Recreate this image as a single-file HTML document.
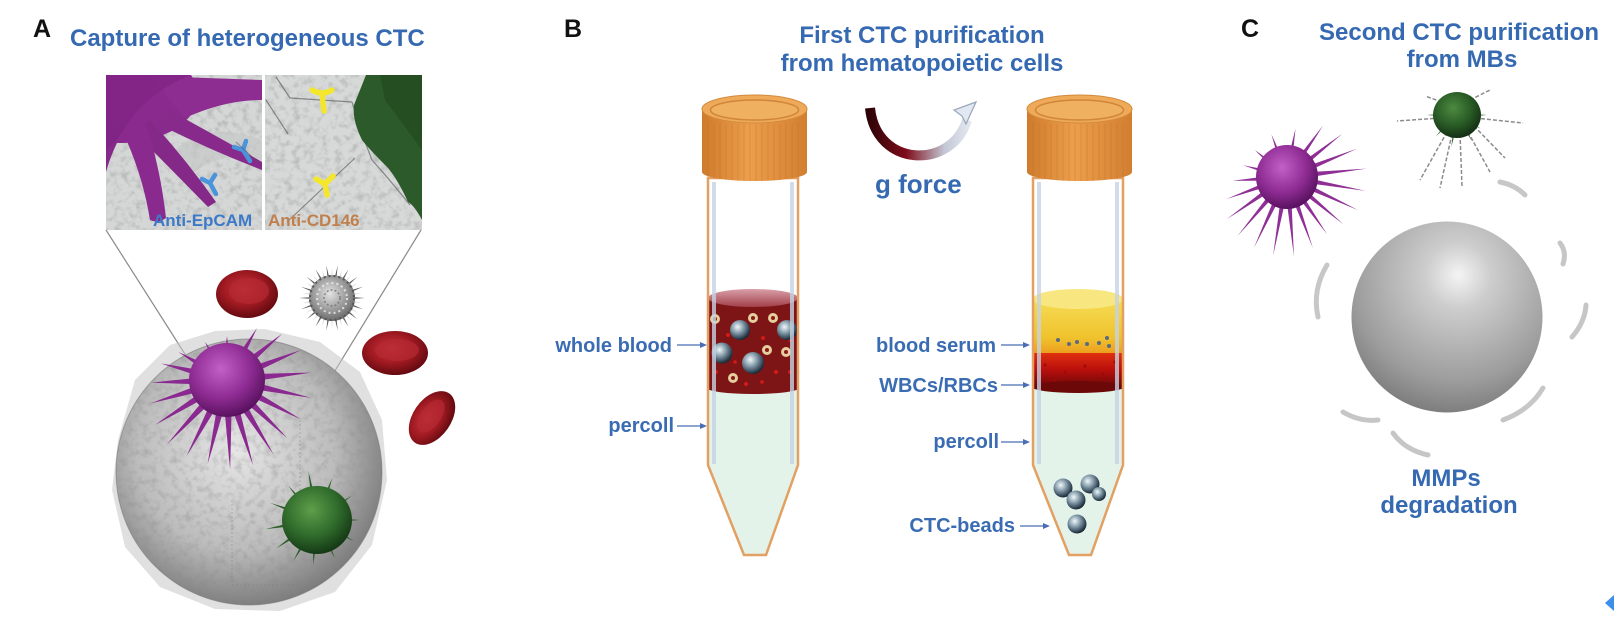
<!DOCTYPE html>
<html>
<head>
<meta charset="utf-8">
<style>
  html,body{margin:0;padding:0;background:#fff;}
  svg{display:block;}
  text{font-family:"Liberation Sans",Arial,sans-serif;font-weight:bold;}
  .t{fill:#3569b1;font-size:24px;}
  .lb{fill:#3a6cb3;font-size:20px;}
  .L{fill:#111;font-size:25px;}
</style>
</head>
<body>
<svg width="1614" height="628" viewBox="0 0 1614 628" xmlns="http://www.w3.org/2000/svg">
<defs>
  <filter id="tex" x="0" y="0" width="1" height="1">
    <feTurbulence type="fractalNoise" baseFrequency="0.14" numOctaves="3" seed="7"/>
    <feColorMatrix type="matrix" values="0 0 0 0 0.25  0 0 0 0 0.25  0 0 0 0 0.25  1.4 0 0 0 -0.64"/>
  </filter>
  <radialGradient id="sphA" cx="0.45" cy="0.42" r="0.62">
    <stop offset="0" stop-color="#e6e6e6"/>
    <stop offset="0.6" stop-color="#bcbcbc"/>
    <stop offset="1" stop-color="#747474"/>
  </radialGradient>
  <radialGradient id="sphC" cx="0.55" cy="0.3" r="0.78" fx="0.56" fy="0.28">
    <stop offset="0" stop-color="#f4f4f4"/>
    <stop offset="0.22" stop-color="#cdcdcd"/>
    <stop offset="0.7" stop-color="#9c9c9c"/>
    <stop offset="1" stop-color="#707070"/>
  </radialGradient>
  <radialGradient id="purp" cx="0.42" cy="0.35" r="0.65">
    <stop offset="0" stop-color="#c160c6"/>
    <stop offset="0.6" stop-color="#8f2c94"/>
    <stop offset="1" stop-color="#5a1260"/>
  </radialGradient>
  <radialGradient id="grn" cx="0.42" cy="0.35" r="0.65">
    <stop offset="0" stop-color="#5e9e4a"/>
    <stop offset="0.6" stop-color="#2f6a2b"/>
    <stop offset="1" stop-color="#163a16"/>
  </radialGradient>
  <radialGradient id="grnC" cx="0.42" cy="0.35" r="0.65">
    <stop offset="0" stop-color="#4d8a40"/>
    <stop offset="0.6" stop-color="#285a25"/>
    <stop offset="1" stop-color="#143014"/>
  </radialGradient>
  <radialGradient id="rbc" cx="0.45" cy="0.4" r="0.6">
    <stop offset="0" stop-color="#c93440"/>
    <stop offset="0.55" stop-color="#a01a22"/>
    <stop offset="1" stop-color="#640a10"/>
  </radialGradient>
  <radialGradient id="bead" cx="0.38" cy="0.35" r="0.65">
    <stop offset="0" stop-color="#f2f8fa"/>
    <stop offset="0.35" stop-color="#9fb4c0"/>
    <stop offset="0.75" stop-color="#4a6070"/>
    <stop offset="1" stop-color="#1c2a36"/>
  </radialGradient>
  <radialGradient id="spiky" cx="0.45" cy="0.4" r="0.6">
    <stop offset="0" stop-color="#e4e4e4"/>
    <stop offset="1" stop-color="#6a6a6a"/>
  </radialGradient>
  <linearGradient id="capG" x1="0" x2="1" y1="0" y2="0">
    <stop offset="0" stop-color="#cf7a2c"/>
    <stop offset="0.45" stop-color="#ec9f4c"/>
    <stop offset="1" stop-color="#d27e30"/>
  </linearGradient>
  <linearGradient id="serum" x1="0" x2="0" y1="0" y2="1">
    <stop offset="0" stop-color="#f6dc55"/>
    <stop offset="0.7" stop-color="#efc22c"/>
    <stop offset="1" stop-color="#ec9a1e"/>
  </linearGradient>
  <linearGradient id="redL" x1="0" x2="0" y1="0" y2="1">
    <stop offset="0" stop-color="#e0300f"/>
    <stop offset="0.5" stop-color="#b80f0c"/>
    <stop offset="1" stop-color="#6c0808"/>
  </linearGradient>
  <linearGradient id="bloodTop" x1="0" x2="0" y1="0" y2="1">
    <stop offset="0" stop-color="#d8a0a8"/>
    <stop offset="1" stop-color="#a3404a"/>
  </linearGradient>
  <linearGradient id="gArrow" gradientUnits="userSpaceOnUse" x1="867" y1="0" x2="978" y2="0">
    <stop offset="0" stop-color="#2a0306"/>
    <stop offset="0.35" stop-color="#7e0c1a"/>
    <stop offset="0.7" stop-color="#c4c8d6"/>
    <stop offset="1" stop-color="#eef2f8"/>
  </linearGradient>
  <path id="spA" d="M0,-5 Q45,-2.5 80,0 Q45,2.5 0,5 Z" fill="#8a2a90"/>
  <path id="spC" d="M0,-3.6 Q35,-1.6 70,0 Q35,1.6 0,3.6 Z" fill="#8f2f95"/>
  <path id="spG" d="M0,-4 Q25,-1.5 50,0 Q25,1.5 0,4 Z" fill="#2c5e28"/>
  <path id="spS" d="M0,-2.4 L33,0 L0,2.4 Z"/>
  <path id="tubeP" d="M708,178 L708,465 L744,555 L766,555 L798,465 L798,178 Z"/>
  <clipPath id="tubeClip"><use href="#tubeP"/></clipPath>
  <clipPath id="clipSphA"><circle cx="249" cy="472" r="133"/></clipPath>
  <clipPath id="clipInL"><rect x="106" y="75" width="156" height="155"/></clipPath>
  <clipPath id="clipInR"><rect x="265" y="75" width="157" height="155"/></clipPath>
  <g id="tubeShell">
    <line x1="714" y1="182" x2="714" y2="464" stroke="#c6d3e4" stroke-width="4" opacity="0.8"/>
    <line x1="792" y1="182" x2="792" y2="464" stroke="#c6d3e4" stroke-width="4" opacity="0.8"/>
    <use href="#tubeP" fill="none" stroke="#e2a062" stroke-width="2.5"/>
    <path d="M702,110 L702,172 A52.5,9 0 0 0 807,172 L807,110 Z" fill="url(#capG)"/>
    <g stroke="#b86a24" stroke-width="1" opacity="0.3">
      <line x1="708" y1="122" x2="708" y2="177"/><line x1="714" y1="123" x2="714" y2="178"/>
      <line x1="720" y1="123" x2="720" y2="179"/><line x1="726" y1="124" x2="726" y2="180"/>
      <line x1="732" y1="124" x2="732" y2="180"/><line x1="738" y1="124" x2="738" y2="181"/>
      <line x1="744" y1="124" x2="744" y2="181"/><line x1="750" y1="124" x2="750" y2="181"/>
      <line x1="756" y1="124" x2="756" y2="181"/><line x1="762" y1="124" x2="762" y2="181"/>
      <line x1="768" y1="124" x2="768" y2="181"/><line x1="774" y1="124" x2="774" y2="180"/>
      <line x1="780" y1="124" x2="780" y2="180"/><line x1="786" y1="123" x2="786" y2="179"/>
      <line x1="792" y1="123" x2="792" y2="178"/><line x1="798" y1="122" x2="798" y2="177"/>
    </g>
    <ellipse cx="754.5" cy="109" rx="52.5" ry="14" fill="#eeaa58" stroke="#d48a3c" stroke-width="1"/>
    <ellipse cx="754.5" cy="110" rx="44" ry="10" fill="#efb060" stroke="#cf853a" stroke-width="1.5"/>
  </g>
</defs>

<!-- ================= PANEL A ================= -->
<text class="L" x="33" y="37">A</text>
<text class="t" x="70" y="46">Capture of heterogeneous CTC</text>

<g clip-path="url(#clipInL)">
  <rect x="106" y="75" width="156" height="155" fill="#d4d7d6"/>
  <rect x="106" y="75" width="156" height="155" filter="url(#tex)" opacity="0.7"/>
  <path d="M175,150 Q210,120 262,140 L262,160 Q220,150 190,175 Z" fill="#c4c7c7" opacity="0.6"/>
  <ellipse cx="120" cy="95" rx="78" ry="48" fill="#8a2a8e"/>
  <path d="M150,76 L262,80 L262,100 Q225,100 185,118 Z" fill="#8d2c91"/>
  <path d="M165,108 Q215,135 262,162 L262,170 Q210,150 158,124 Z" fill="#872a8c"/>
  <path d="M150,120 Q185,158 216,202 L208,207 Q170,168 136,134 Z" fill="#852989"/>
  <path d="M118,122 Q142,170 150,220 Q158,224 166,218 Q160,165 144,118 Z" fill="#8a2a8e"/>
  <path d="M106,118 L106,172 Q112,150 126,126 Z" fill="#862a8a"/>
  <path d="M106,75 L190,75 Q150,92 130,120 Q118,140 106,150 Z" fill="#7a1f80" opacity="0.5"/>
  <g stroke="#4a94dc" stroke-width="4.5" stroke-linecap="round" fill="none">
    <path d="M243,150 l7,11 M243,150 l-9,-3 M243,150 l3,-9"/>
    <path d="M210,183 l6,11 M210,183 l-8,-4 M210,183 l5,-8"/>
  </g>
  <line x1="236" y1="142" x2="262" y2="166" stroke="#5a4a5a" stroke-width="1" opacity="0.5"/>
  <text x="153" y="226" style="font-size:17px;fill:#3c7ac8;">Anti-EpCAM</text>
</g>
<g clip-path="url(#clipInR)">
  <rect x="265" y="75" width="157" height="155" fill="#d6d9d8"/>
  <rect x="265" y="75" width="157" height="155" filter="url(#tex)" opacity="0.7"/>
  <g stroke="#444" stroke-width="1.2" opacity="0.55" fill="none">
    <path d="M276,77 L290,98 L352,102"/>
    <path d="M266,100 L288,134"/>
    <path d="M287,222 L355,158"/>
    <path d="M352,102 Q360,130 372,160 Q390,180 410,205"/>
  </g>
  <path d="M366,75 L422,75 L422,220 Q414,205 408,202 Q398,180 388,168 Q370,150 362,140 Q352,120 354,105 Q360,90 366,75 Z" fill="#2d5a2a"/>
  <path d="M380,75 L422,75 L422,150 Q400,120 385,100 Z" fill="#1f461f" opacity="0.6"/>
  <g stroke="#f4e62a" stroke-width="5.5" stroke-linecap="round" fill="none">
    <path d="M312,90 Q322,96 332,90 M322,94 L324,111"/>
    <path d="M325,184 l2,11 M325,184 l-9,-5 M325,184 l8,-8"/>
  </g>
  <text x="268" y="226" style="font-size:17px;fill:#c0804e;">Anti-CD146</text>
</g>

<line x1="106" y1="230" x2="190" y2="362" stroke="#8a8a8a" stroke-width="1.2"/>
<line x1="421" y1="230" x2="322" y2="392" stroke="#8a8a8a" stroke-width="1.2"/>

<g>
  <ellipse cx="247" cy="294" rx="31" ry="24" fill="url(#rbc)"/>
  <ellipse cx="249" cy="291" rx="20" ry="13" fill="#b52a33" opacity="0.7"/>
  <g transform="translate(395,353)">
    <ellipse cx="0" cy="0" rx="33" ry="22" fill="url(#rbc)"/>
    <ellipse cx="2" cy="-3" rx="22" ry="11" fill="#b52a33" opacity="0.7"/>
  </g>
  <g transform="translate(432,418) rotate(-55)">
    <ellipse cx="0" cy="0" rx="30" ry="19" fill="url(#rbc)"/>
    <ellipse cx="1" cy="-2" rx="19" ry="10" fill="#b52a33" opacity="0.7"/>
  </g>
  <g transform="translate(332,298)">
    <g fill="#5a5a5a">
      <use href="#spS" transform="rotate(0)"/><use href="#spS" transform="rotate(20)"/><use href="#spS" transform="rotate(40)"/>
      <use href="#spS" transform="rotate(60)"/><use href="#spS" transform="rotate(80)"/><use href="#spS" transform="rotate(100)"/>
      <use href="#spS" transform="rotate(120)"/><use href="#spS" transform="rotate(140)"/><use href="#spS" transform="rotate(160)"/>
      <use href="#spS" transform="rotate(180)"/><use href="#spS" transform="rotate(200)"/><use href="#spS" transform="rotate(220)"/>
      <use href="#spS" transform="rotate(240)"/><use href="#spS" transform="rotate(260)"/><use href="#spS" transform="rotate(280)"/>
      <use href="#spS" transform="rotate(300)"/><use href="#spS" transform="rotate(320)"/><use href="#spS" transform="rotate(340)"/>
    </g>
    <g fill="#d8d8d8">
      <use href="#spS" transform="rotate(10) scale(0.92,1)"/><use href="#spS" transform="rotate(30) scale(0.92,1)"/><use href="#spS" transform="rotate(50) scale(0.92,1)"/>
      <use href="#spS" transform="rotate(70) scale(0.92,1)"/><use href="#spS" transform="rotate(90) scale(0.92,1)"/><use href="#spS" transform="rotate(110) scale(0.92,1)"/>
      <use href="#spS" transform="rotate(130) scale(0.92,1)"/><use href="#spS" transform="rotate(150) scale(0.92,1)"/><use href="#spS" transform="rotate(170) scale(0.92,1)"/>
      <use href="#spS" transform="rotate(190) scale(0.92,1)"/><use href="#spS" transform="rotate(210) scale(0.92,1)"/><use href="#spS" transform="rotate(230) scale(0.92,1)"/>
      <use href="#spS" transform="rotate(250) scale(0.92,1)"/><use href="#spS" transform="rotate(270) scale(0.92,1)"/><use href="#spS" transform="rotate(290) scale(0.92,1)"/>
      <use href="#spS" transform="rotate(310) scale(0.92,1)"/><use href="#spS" transform="rotate(330) scale(0.92,1)"/><use href="#spS" transform="rotate(350) scale(0.92,1)"/>
    </g>
    <circle r="23" fill="url(#spiky)"/>
    <circle r="22" fill="none" stroke="#555" stroke-width="2" stroke-dasharray="2 3"/>
    <circle r="15" fill="none" stroke="#f0f0f0" stroke-width="2" stroke-dasharray="2 3" opacity="0.8"/>
    <circle r="8" fill="none" stroke="#666" stroke-width="1.5" stroke-dasharray="2 2" opacity="0.7"/>
  </g>
</g>

<polygon points="118,440 135,380 170,345 215,331 265,329 320,342 360,372 382,420 387,480 372,545 335,592 280,611 215,609 160,587 125,547 112,490" fill="#c6c6c6" opacity="0.55"/>
<circle cx="249" cy="472" r="133" fill="url(#sphA)"/>
<g clip-path="url(#clipSphA)">
  <rect x="116" y="339" width="266" height="266" filter="url(#tex)" opacity="0.65"/>
</g>
<circle cx="249" cy="472" r="133" fill="none" stroke="#7a7a7a" stroke-width="1" opacity="0.6"/>
<path d="M232,500 L232,585 M232,585 L300,585 M300,420 L300,500" stroke="#777" stroke-width="0.8" stroke-dasharray="2 2" opacity="0.5" fill="none"/>

<g transform="translate(227,380)">
  <use href="#spA" transform="rotate(-150) scale(0.6,1)"/>
  <use href="#spA" transform="rotate(-120) scale(0.55,1)"/>
  <use href="#spA" transform="rotate(-90) scale(0.55,1)"/>
  <use href="#spA" transform="rotate(-60) scale(0.75,1)"/>
  <use href="#spA" transform="rotate(-40) scale(0.9,1)"/>
  <use href="#spA" transform="rotate(-22) scale(1.0,1)"/>
  <use href="#spA" transform="rotate(-5) scale(1.05,1)"/>
  <use href="#spA" transform="rotate(12) scale(1.08,1)"/>
  <use href="#spA" transform="rotate(28) scale(1.05,1)"/>
  <use href="#spA" transform="rotate(44) scale(1.05,1)"/>
  <use href="#spA" transform="rotate(58) scale(1.1,1)"/>
  <use href="#spA" transform="rotate(73) scale(1.12,1)"/>
  <use href="#spA" transform="rotate(88) scale(1.12,1)"/>
  <use href="#spA" transform="rotate(103) scale(1.08,1)"/>
  <use href="#spA" transform="rotate(118) scale(1.08,1)"/>
  <use href="#spA" transform="rotate(133) scale(1.1,1)"/>
  <use href="#spA" transform="rotate(148) scale(1.06,1)"/>
  <use href="#spA" transform="rotate(163) scale(1.0,1)"/>
  <use href="#spA" transform="rotate(178) scale(0.95,1)"/>
  <use href="#spA" transform="rotate(194) scale(0.85,1)"/>
  <use href="#spA" transform="rotate(210) scale(0.7,1)"/>
  <ellipse cx="0" cy="0" rx="38" ry="37" fill="url(#purp)"/>
</g>

<g transform="translate(317,520)">
  <use href="#spG" transform="rotate(-100)"/>
  <use href="#spG" transform="rotate(-70) scale(0.9,1)"/>
  <use href="#spG" transform="rotate(-130) scale(0.9,1)"/>
  <use href="#spG" transform="rotate(-160)"/>
  <use href="#spG" transform="rotate(170) scale(1.05,1)"/>
  <use href="#spG" transform="rotate(145)"/>
  <use href="#spG" transform="rotate(120) scale(0.95,1)"/>
  <use href="#spG" transform="rotate(95) scale(0.9,1)"/>
  <use href="#spG" transform="rotate(65) scale(0.85,1)"/>
  <use href="#spG" transform="rotate(30) scale(0.85,1)"/>
  <use href="#spG" transform="rotate(0) scale(0.85,1)"/>
  <use href="#spG" transform="rotate(-35) scale(0.85,1)"/>
  <ellipse cx="0" cy="0" rx="35" ry="34" fill="url(#grn)"/>
</g>

<!-- ================= PANEL B ================= -->
<text class="L" x="564" y="37">B</text>
<text class="t" x="922" y="43" text-anchor="middle">First CTC purification</text>
<text class="t" x="922" y="71" text-anchor="middle">from hematopoietic cells</text>

<path d="M870,108 C876,168 952,170 967,120" fill="none" stroke="url(#gArrow)" stroke-width="10" stroke-linecap="butt"/>
<polygon points="976,102 954,110 962,116 966,124" fill="#e2e8f2" stroke="#98a6ba" stroke-width="1.2"/>
<text x="875" y="193" style="font-size:26px;fill:#3569b1;">g force</text>

<use href="#tubeP" fill="#fff"/>
<g clip-path="url(#tubeClip)">
  <rect x="700" y="386" width="110" height="180" fill="#e3f3ea"/>
  <rect x="700" y="298" width="110" height="90" fill="#7d1517"/>
  <ellipse cx="753" cy="388" rx="46" ry="6" fill="#7d1517"/>
  <ellipse cx="753" cy="298" rx="45" ry="9" fill="url(#bloodTop)"/>
  <g fill="#d21a1a">
    <circle cx="728" cy="335" r="2"/><circle cx="763" cy="338" r="2"/><circle cx="776" cy="372" r="2"/>
    <circle cx="716" cy="372" r="2"/><circle cx="746" cy="384" r="2"/><circle cx="790" cy="372" r="2"/>
    <circle cx="762" cy="382" r="1.8"/><circle cx="735" cy="362" r="1.8"/><circle cx="790" cy="340" r="1.8"/>
  </g>
  <g>
    <circle cx="715" cy="319" r="5" fill="#e6cf9e"/><circle cx="715" cy="319" r="2" fill="#8a1a1a"/>
    <circle cx="753" cy="318" r="5" fill="#e6cf9e"/><circle cx="753" cy="318" r="2" fill="#8a1a1a"/>
    <circle cx="773" cy="318" r="5" fill="#e6cf9e"/><circle cx="773" cy="318" r="2" fill="#8a1a1a"/>
    <circle cx="767" cy="350" r="5" fill="#e6cf9e"/><circle cx="767" cy="350" r="2" fill="#8a1a1a"/>
    <circle cx="786" cy="352" r="5" fill="#e6cf9e"/><circle cx="786" cy="352" r="2" fill="#8a1a1a"/>
    <circle cx="733" cy="378" r="5" fill="#e6cf9e"/><circle cx="733" cy="378" r="2" fill="#8a1a1a"/>
  </g>
  <circle cx="740" cy="330" r="10" fill="url(#bead)"/>
  <circle cx="787" cy="330" r="10" fill="url(#bead)"/>
  <circle cx="722" cy="353" r="10.5" fill="url(#bead)"/>
  <circle cx="753" cy="363" r="11" fill="url(#bead)"/>
</g>
<use href="#tubeShell"/>

<g transform="translate(325,0)">
  <use href="#tubeP" fill="#fff"/>
  <g clip-path="url(#tubeClip)">
    <rect x="700" y="385" width="110" height="180" fill="#e3f3ea"/>
    <rect x="700" y="299" width="110" height="56" fill="url(#serum)"/>
    <rect x="700" y="353" width="110" height="34" fill="url(#redL)"/>
    <ellipse cx="753" cy="387" rx="46" ry="6" fill="#6c0808"/>
    <ellipse cx="753" cy="299" rx="45" ry="10" fill="#f8e680"/>
    <g fill="#a00808" opacity="0.8">
      <circle cx="720" cy="365" r="1.6"/><circle cx="740" cy="372" r="1.6"/><circle cx="760" cy="366" r="1.6"/>
      <circle cx="778" cy="374" r="1.6"/><circle cx="790" cy="362" r="1.6"/><circle cx="730" cy="380" r="1.6"/>
    </g>
    <g fill="#5a6a80">
      <circle cx="733" cy="340" r="2"/><circle cx="744" cy="344" r="2"/><circle cx="752" cy="342" r="2"/>
      <circle cx="762" cy="344" r="2"/><circle cx="774" cy="343" r="2"/><circle cx="782" cy="338" r="2"/><circle cx="784" cy="346" r="2"/>
    </g>
    <circle cx="738" cy="488" r="9.5" fill="url(#bead)"/>
    <circle cx="765" cy="484" r="9.5" fill="url(#bead)"/>
    <circle cx="751" cy="500" r="9.5" fill="url(#bead)"/>
    <circle cx="752" cy="524" r="9.5" fill="url(#bead)"/>
    <circle cx="774" cy="494" r="7" fill="url(#bead)"/>
  </g>
  <use href="#tubeShell"/>
</g>

<g stroke="#4a6db5" stroke-width="1.3">
  <line x1="677" y1="345" x2="702" y2="345"/>
  <line x1="677" y1="426" x2="702" y2="426"/>
  <line x1="1001" y1="345" x2="1025" y2="345"/>
  <line x1="1001" y1="385" x2="1025" y2="385"/>
  <line x1="1001" y1="442" x2="1025" y2="442"/>
  <line x1="1020" y1="526" x2="1045" y2="526"/>
</g>
<g fill="#4a6db5">
  <polygon points="707,345 700,342 700,348"/>
  <polygon points="707,426 700,423 700,429"/>
  <polygon points="1030,345 1023,342 1023,348"/>
  <polygon points="1030,385 1023,382 1023,388"/>
  <polygon points="1030,442 1023,439 1023,445"/>
  <polygon points="1050,526 1043,523 1043,529"/>
</g>
<text class="lb" x="672" y="352" text-anchor="end">whole blood</text>
<text class="lb" x="674" y="432" text-anchor="end">percoll</text>
<text class="lb" x="996" y="352" text-anchor="end">blood serum</text>
<text class="lb" x="998" y="392" text-anchor="end">WBCs/RBCs</text>
<text class="lb" x="999" y="448" text-anchor="end">percoll</text>
<text class="lb" x="1015" y="532" text-anchor="end">CTC-beads</text>

<!-- ================= PANEL C ================= -->
<text class="L" x="1241" y="37">C</text>
<text class="t" x="1459" y="40" text-anchor="middle">Second CTC purification</text>
<text class="t" x="1462" y="67" text-anchor="middle">from MBs</text>

<g transform="translate(1287,177)">
  <use href="#spC" transform="rotate(-140) scale(0.6,1)"/>
  <use href="#spC" transform="rotate(-110) scale(0.65,1)"/>
  <use href="#spC" transform="rotate(-80) scale(0.7,1)"/>
  <use href="#spC" transform="rotate(-55) scale(0.9,1)"/>
  <use href="#spC" transform="rotate(-38) scale(1.0,1)"/>
  <use href="#spC" transform="rotate(-22) scale(1.08,1)"/>
  <use href="#spC" transform="rotate(-6) scale(1.14,1)"/>
  <use href="#spC" transform="rotate(10) scale(1.14,1)"/>
  <use href="#spC" transform="rotate(25) scale(1.12,1)"/>
  <use href="#spC" transform="rotate(40) scale(1.05,1)"/>
  <use href="#spC" transform="rotate(55) scale(1.0,1)"/>
  <use href="#spC" transform="rotate(70) scale(1.08,1)"/>
  <use href="#spC" transform="rotate(85) scale(1.14,1)"/>
  <use href="#spC" transform="rotate(100) scale(1.14,1)"/>
  <use href="#spC" transform="rotate(115) scale(1.12,1)"/>
  <use href="#spC" transform="rotate(130) scale(1.1,1)"/>
  <use href="#spC" transform="rotate(145) scale(1.05,1)"/>
  <use href="#spC" transform="rotate(160) scale(0.92,1)"/>
  <use href="#spC" transform="rotate(176) scale(0.78,1)"/>
  <use href="#spC" transform="rotate(195) scale(0.65,1)"/>
  <use href="#spC" transform="rotate(220) scale(0.58,1)"/>
  <ellipse cx="0" cy="0" rx="31" ry="32" fill="url(#purp)"/>
</g>

<g stroke="#8c8c8c" stroke-width="1.5" stroke-dasharray="4 2" fill="none">
  <line x1="1440" y1="118" x2="1397" y2="121"/>
  <line x1="1475" y1="118" x2="1523" y2="123"/>
  <line x1="1447" y1="132" x2="1420" y2="180"/>
  <line x1="1452" y1="134" x2="1440" y2="188"/>
  <line x1="1460" y1="134" x2="1462" y2="186"/>
  <line x1="1468" y1="132" x2="1490" y2="172"/>
  <line x1="1474" y1="126" x2="1505" y2="158"/>
  <line x1="1470" y1="100" x2="1490" y2="90"/>
  <line x1="1442" y1="102" x2="1425" y2="96"/>
</g>
<g transform="translate(1457,115)">
  <use href="#spG" transform="rotate(180) scale(0.6,0.7)"/>
  <use href="#spG" transform="rotate(0) scale(0.6,0.7)"/>
  <use href="#spG" transform="rotate(100) scale(0.65,0.7)"/>
  <use href="#spG" transform="rotate(60) scale(0.6,0.7)"/>
  <use href="#spG" transform="rotate(135) scale(0.6,0.7)"/>
  <use href="#spG" transform="rotate(30) scale(0.55,0.7)"/>
  <ellipse cx="0" cy="0" rx="24" ry="23" fill="url(#grnC)"/>
</g>

<circle cx="1447" cy="317" r="95.5" fill="url(#sphC)"/>
<g stroke="#bdbdbd" stroke-width="5" stroke-linecap="round" fill="none" opacity="0.85">
  <path d="M1500,182 Q1515,185 1525,195"/>
  <path d="M1560,243 Q1567,252 1563,264"/>
  <path d="M1586,305 Q1585,322 1572,337"/>
  <path d="M1327,265 Q1312,290 1318,317"/>
  <path d="M1343,412 Q1360,422 1378,420"/>
  <path d="M1393,433 Q1405,450 1428,455"/>
  <path d="M1543,388 Q1530,410 1503,420"/>
</g>
<text class="t" x="1446" y="486" text-anchor="middle">MMPs</text>
<text class="t" x="1449" y="513" text-anchor="middle">degradation</text>

<polygon points="1614,595 1605,603 1614,611" fill="#3b8fe8"/>
</svg>
</body>
</html>
